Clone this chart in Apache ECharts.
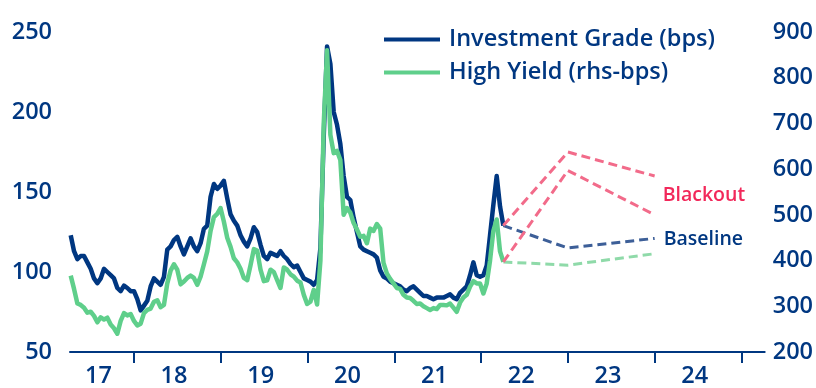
<!DOCTYPE html>
<html>
<head>
<meta charset="utf-8">
<script src="https://cdn.jsdelivr.net/npm/echarts@6/dist/echarts.min.js"></script>
<style>
  html, body { margin: 0; padding: 0; background: #ffffff; }
  #chart { width: 816px; height: 388px; }
</style>
</head>
<body>
<div id="chart"></div>
<script>
// Credit spreads, fortnightly observations from 10 April 2017
const seriesStart = '2017-04-10';
const stepDays = 14;

// Investment Grade spread (bps, left axis)
const igSpread = [
  123, 113, 108, 110, 110, 106, 102, 96, 93, 96,
  102, 100, 98, 96, 90, 88, 91.5, 90, 88, 88,
  83, 76, 79, 82, 91, 96, 94, 92, 97, 114,
  116, 120, 122, 116, 111, 116, 121, 116, 113, 118,
  127, 129, 147, 155, 152, 154, 157, 146, 136, 132,
  129, 123, 119, 116, 121, 128, 125, 117, 110, 108,
  112, 111, 110, 113, 110, 108, 105, 103, 104, 100,
  96, 95, 94, 92, 95, 115, 185, 241, 230, 200,
  192, 180, 160, 147, 145, 134, 125, 116, 114, 113,
  112, 111, 109, 101, 97, 96, 94, 93, 92, 91,
  89, 88, 90, 91, 89, 87, 85, 85, 84, 83,
  84, 84, 84, 85, 86, 84, 83, 87, 89, 91,
  98, 106, 98, 97, 98, 104, 123, 142, 160, 141,
  129
];

// High Yield spread (bps, right axis)
const hySpread = [
  367, 338, 306, 303, 297, 286, 288, 279, 265, 276,
  271, 275, 260, 252, 240, 268, 285, 280, 283, 268,
  258, 262, 285, 292, 295, 310, 313, 298, 303, 350,
  378, 392, 380, 348, 354, 362, 367, 362, 347, 365,
  392, 420, 465, 495, 502, 515, 485, 450, 430, 405,
  396, 382, 362, 357, 390, 425, 422, 380, 355, 357,
  380, 375, 357, 340, 385, 380, 370, 365, 356, 352,
  325, 305, 310, 336, 304, 400, 700, 860, 675, 635,
  640, 620, 500, 515, 505, 482, 468, 452, 454, 438,
  470, 465, 480, 470, 395, 372, 360, 350, 340, 338,
  325, 319, 318, 312, 305, 306, 300, 296, 292, 296,
  294, 303, 303, 302, 306, 297, 288, 308, 319, 325,
  343, 355, 350, 350, 328, 350, 400, 465, 490, 420,
  397
];

// Scenario path dates (year ends) and spreads
const scenarioDates = ['2022-12-31', '2023-12-31'];
const igBaseline = [115, 121];
const igBlackout = [175, 160];
const hyBaseline = [390, 415];
const hyBlackout = [597, 500];

const yearTicks = [2018, 2019, 2020, 2021, 2022, 2023, 2024, 2025];
const yearLabels = ['17', '18', '19', '20', '21', '22', '23', '24'];

const NAVY = '#003781';
const GREEN = '#5fcf8b';
const FONT = '"Open Sans"';
const WEIGHT = 600;
const SIZE = 23.5;

function toYear(ms) {
  const d = new Date(ms);
  const y = d.getUTCFullYear();
  const s = Date.UTC(y, 0, 1), e = Date.UTC(y + 1, 0, 1);
  return y + (ms - s) / (e - s);
}
function parseDay(str) {
  const p = str.split('-').map(Number);
  return Date.UTC(p[0], p[1] - 1, p[2]);
}

const t0 = parseDay(seriesStart);
const obsYears = igSpread.map((_, i) => toYear(t0 + i * stepDays * 86400000));
const lastYear = obsYears[obsYears.length - 1];
const scenYears = [lastYear].concat(scenarioDates.map(s => toYear(parseDay(s))));

const zip = (xs, ys) => xs.map((x, i) => [x, ys[i]]);
const igLast = igSpread[igSpread.length - 1];
const hyLast = hySpread[hySpread.length - 1];

const xMin = 2017.263, xMax = 2025.265;
const labelPos = yearLabels.map((_, i) => {
  const y0 = 2017 + i;
  const a = Math.max(y0, xMin), b = Math.min(y0 + 1, xMax);
  return (a + b) / 2 - 0.04;
});

const chart = echarts.init(document.getElementById('chart'), null, { renderer: 'canvas' });

const dashed = (name, axis, xs, ys, color) => ({
  name, type: 'line', yAxisIndex: axis, data: zip(xs, ys),
  showSymbol: false, silent: true,
  lineStyle: { color, width: 3, type: [9, 5] }
});

const axisText = { color: NAVY, fontSize: SIZE, fontFamily: FONT, fontWeight: WEIGHT };

chart.setOption({
  animation: false,
  textStyle: { fontFamily: FONT },
  grid: { left: 70, right: 51, top: 32, bottom: 33, containLabel: false },
  legend: {
    data: ['Investment Grade (bps)', 'High Yield (rhs-bps)'],
    orient: 'vertical', left: 384, top: 23, padding: 0, itemGap: 0,
    itemWidth: 56, itemHeight: 4, icon: 'rect',
    selectedMode: false,
    textStyle: { color: NAVY, fontSize: SIZE, fontFamily: FONT, fontWeight: WEIGHT, lineHeight: 26,
                 padding: [0, 0, 7, 4] }
  },
  xAxis: {
    type: 'value', min: xMin, max: xMax,
    axisLine: { lineStyle: { color: NAVY, width: 2 } },
    axisTick: { show: true, customValues: yearTicks, length: 11, lineStyle: { color: NAVY, width: 2 } },
    axisLabel: Object.assign({
      customValues: labelPos, margin: 12,
      formatter: v => yearLabels[labelPos.findIndex(p => Math.abs(p - v) < 1e-6)]
    }, axisText),
    splitLine: { show: false }
  },
  yAxis: [
    {
      type: 'value', min: 50, max: 250, interval: 50, position: 'left',
      axisLine: { show: false }, axisTick: { show: false }, splitLine: { show: false },
      axisLabel: Object.assign({ margin: 18 }, axisText)
    },
    {
      type: 'value', min: 200, max: 900, interval: 100, position: 'right',
      axisLine: { show: false }, axisTick: { show: false }, splitLine: { show: false },
      axisLabel: Object.assign({ margin: 8 }, axisText)
    }
  ],
  series: [
    {
      name: 'Investment Grade (bps)', type: 'line', yAxisIndex: 0,
      data: zip(obsYears, igSpread), showSymbol: false, color: NAVY,
      lineStyle: { color: NAVY, width: 4.5, join: 'round' }
    },
    {
      name: 'High Yield (rhs-bps)', type: 'line', yAxisIndex: 1,
      data: zip(obsYears, hySpread), showSymbol: false, color: GREEN,
      lineStyle: { color: GREEN, width: 4.5, join: 'round' }
    },
    dashed('IG baseline', 0, scenYears, [igLast].concat(igBaseline), '#3d5f98'),
    dashed('HY baseline', 1, scenYears, [hyLast].concat(hyBaseline), '#8fdaa9'),
    dashed('IG blackout', 0, scenYears, [igLast].concat(igBlackout), '#f26b8a'),
    dashed('HY blackout', 1, scenYears, [hyLast].concat(hyBlackout), '#f26b8a')
  ]
});

// Scenario names beside the path ends
const endYear = scenYears[2];
const pBlackIg = chart.convertToPixel({ xAxisIndex: 0, yAxisIndex: 0 }, [endYear, igBlackout[1]]);
const pBlackHy = chart.convertToPixel({ xAxisIndex: 0, yAxisIndex: 1 }, [endYear, hyBlackout[1]]);
const pBaseIg = chart.convertToPixel({ xAxisIndex: 0, yAxisIndex: 0 }, [endYear, igBaseline[1]]);
const labelFont = '600 19.5px ' + FONT;
chart.setOption({
  graphic: [
    { type: 'text', x: pBlackIg[0] + 8, y: (pBlackIg[1] + pBlackHy[1]) / 2,
      style: { text: 'Blackout', fill: '#f2285a', font: labelFont, textVerticalAlign: 'middle' } },
    { type: 'text', x: pBaseIg[0] + 9, y: pBaseIg[1] + 1,
      style: { text: 'Baseline', fill: NAVY, font: labelFont, textVerticalAlign: 'middle' } }
  ]
});
</script>
</body>
</html>
